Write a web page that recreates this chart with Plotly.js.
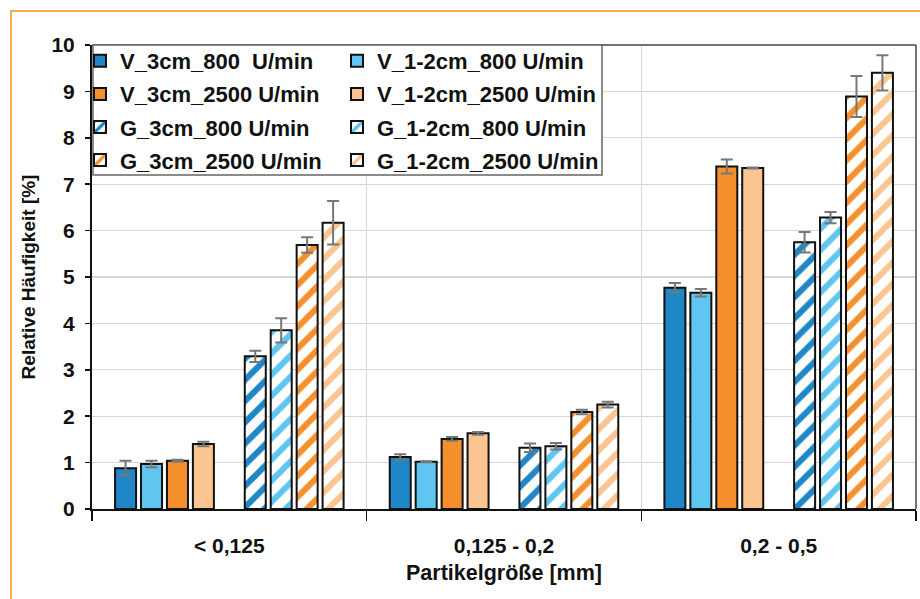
<!DOCTYPE html>
<html>
<head>
<meta charset="utf-8">
<script src="https://cdn.plot.ly/plotly-3.0.1.min.js"></script>
<style>html,body{margin:0;padding:0;background:#fff;}#chart{width:920px;height:599px;}</style>
</head>
<body>
<div id="chart"></div>
<script>
// ---- data ----
var categories = ['< 0,125', '0,125 - 0,2', '0,2 - 0,5'];

var seriesNames = [
  'V_3cm_800\u00a0 U/min', 'V_1-2cm_800 U/min', 'V_3cm_2500 U/min', 'V_1-2cm_2500 U/min',
  'G_3cm_800 U/min', 'G_1-2cm_800 U/min', 'G_3cm_2500 U/min', 'G_1-2cm_2500 U/min'
];

var v3cm800   = [0.88, 1.12, 4.77];
var v12cm800  = [0.97, 1.02, 4.66];
var v3cm2500  = [1.04, 1.51, 7.38];
var v12cm2500 = [1.40, 1.63, 7.35];
var g3cm800   = [3.29, 1.32, 5.75];
var g12cm800  = [3.85, 1.35, 6.28];
var g3cm2500  = [5.69, 2.09, 8.89];
var g12cm2500 = [6.17, 2.25, 9.40];

var e_v3cm800   = [0.16, 0.06, 0.10];
var e_v12cm800  = [0.07, 0.01, 0.08];
var e_v3cm2500  = [0.02, 0.04, 0.15];
var e_v12cm2500 = [0.05, 0.03, 0.01];
var e_g3cm800   = [0.12, 0.09, 0.22];
var e_g12cm800  = [0.26, 0.07, 0.12];
var e_g3cm2500  = [0.165, 0.05, 0.44];
var e_g12cm2500 = [0.47, 0.06, 0.38];

var yTicks = [0, 1, 2, 3, 4, 5, 6, 7, 8, 9, 10];

// ---- styles ----
var DBLUE = '#1f86c7', LBLUE = '#5ec6f0', ORANGE = '#f5902d', LORANGE = '#fbc592';
var L = 92, R = 4, T = 45, B = 90, W = 920, H = 599;
var PW = W - L - R, PH = H - T - B;
function px(x) { return (x - L) / PW; }
function py(y) { return (H - B - y) / PH; }

function bar(name, y, err, color, hatched, legend, grp) {
  var m = { color: hatched ? 'white' : color, line: { color: '#111', width: 2 } };
  if (hatched) m.pattern = { shape: '/', fgcolor: color, bgcolor: 'white', size: 15, solidity: 0.4, fillmode: 'replace', fgopacity: 1 };
  return {
    type: 'bar', name: name, x: categories, y: y, marker: m, legend: legend, legendgroup: grp,
    error_y: { type: 'data', array: err, visible: true, color: '#777', thickness: 2, width: 6 }
  };
}

var data = [
  bar(seriesNames[0], v3cm800, e_v3cm800, DBLUE, false, 'legend', 'a'),
  bar(seriesNames[1], v12cm800, e_v12cm800, LBLUE, false, 'legend2', 'b'),
  bar(seriesNames[2], v3cm2500, e_v3cm2500, ORANGE, false, 'legend', 'c'),
  bar(seriesNames[3], v12cm2500, e_v12cm2500, LORANGE, false, 'legend2', 'd'),
  { type: 'bar', name: 'spacer', x: categories, y: [0, 0, 0], showlegend: false,
    marker: { color: 'rgba(0,0,0,0)', line: { width: 0 } }, hoverinfo: 'skip' },
  bar(seriesNames[4], g3cm800, e_g3cm800, DBLUE, true, 'legend', 'e'),
  bar(seriesNames[5], g12cm800, e_g12cm800, LBLUE, true, 'legend2', 'f'),
  bar(seriesNames[6], g3cm2500, e_g3cm2500, ORANGE, true, 'legend', 'g'),
  bar(seriesNames[7], g12cm2500, e_g12cm2500, LORANGE, true, 'legend2', 'h')
];

var legFont = { family: 'Liberation Sans, Arial, sans-serif', size: 22, color: '#111', weight: 700 };
var layout = {
  width: W, height: H,
  margin: { l: L, r: R, t: T, b: B, pad: 0 },
  paper_bgcolor: 'white', plot_bgcolor: 'white',
  barmode: 'group', bargap: 0.15, bargroupgap: 0.19,
  font: { family: 'Liberation Sans, Arial, sans-serif', color: '#111' },
  showlegend: true,
  legend: { x: px(80), xanchor: 'left', y: py(40), yanchor: 'top', bgcolor: 'rgba(0,0,0,0)',
            borderwidth: 0, font: legFont, tracegroupgap: 1.5 },
  legend2: { x: px(337), xanchor: 'left', y: py(40), yanchor: 'top', bgcolor: 'rgba(0,0,0,0)',
             borderwidth: 0, font: legFont, tracegroupgap: 1.5 },
  xaxis: {
    type: 'category', showline: true, linecolor: '#111', linewidth: 2,
    ticks: 'outside', tickson: 'boundaries', ticklen: 10, tickwidth: 1.5, tickcolor: '#111',
    showgrid: true, gridcolor: '#d6d6d6', gridwidth: 1.2,
    tickfont: { size: 21, weight: 700, color: '#111' }, ticklabelstandoff: 17,
    title: { text: 'Partikelgröße [mm]', font: { size: 21.5, weight: 700, color: '#111' }, standoff: 9 },
    automargin: false, fixedrange: true
  },
  yaxis: {
    range: [0, 10], tickvals: yTicks, showline: true, linecolor: '#111', linewidth: 2,
    ticks: 'outside', ticklen: 5, tickwidth: 1.5, tickcolor: '#111',
    showgrid: true, gridcolor: '#d6d6d6', gridwidth: 1.2, zeroline: false,
    tickfont: { size: 21, weight: 700, color: '#111' }, ticklabelstandoff: 6,
    title: { text: 'Relative Häufigkeit [%]', font: { size: 19, weight: 700, color: '#111' }, standoff: 11 },
    automargin: false, fixedrange: true
  },
  shapes: [
    { type: 'rect', xref: 'paper', yref: 'paper', x0: px(11), x1: px(990), y0: py(700), y1: py(11),
      line: { color: '#f7ab52', width: 2 }, fillcolor: 'rgba(0,0,0,0)', layer: 'below' },
    { type: 'line', xref: 'paper', yref: 'paper', x0: 0, x1: 1, y0: 1, y1: 1, line: { color: '#444', width: 1.5 }, layer: 'above' },
    { type: 'line', xref: 'paper', yref: 'paper', x0: 1, x1: 1, y0: 0, y1: 1, line: { color: '#444', width: 1.5 }, layer: 'above' },
    { type: 'rect', xref: 'paper', yref: 'paper', x0: px(93), x1: px(602), y0: py(175), y1: py(45),
      line: { color: '#666', width: 1.5 }, fillcolor: 'white', layer: 'above' }
  ]
};

Plotly.newPlot('chart', data, layout, { displayModeBar: false, staticPlot: true });
</script>
</body>
</html>
